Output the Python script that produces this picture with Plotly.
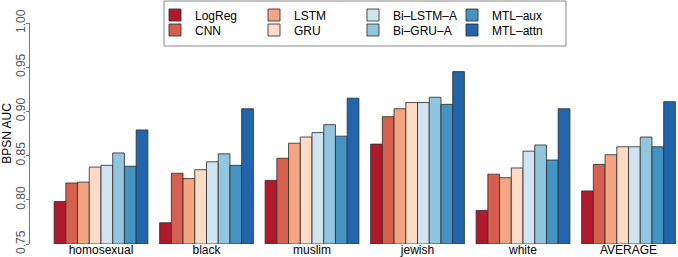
import plotly.graph_objects as go

categories = ["homosexual", "black", "muslim", "jewish", "white", "AVERAGE"]
models = ["LogReg", "CNN", "LSTM", "GRU", "Bi\u2013LSTM\u2013A", "Bi\u2013GRU\u2013A", "MTL\u2013aux", "MTL\u2013attn"]
colors = ["#B2182B", "#D6604D", "#F4A582", "#FDDBC7", "#D1E5F0", "#92C5DE", "#4393C3", "#2166AC"]

logreg   = [0.798, 0.774, 0.822, 0.863, 0.788, 0.810]
cnn      = [0.819, 0.830, 0.847, 0.894, 0.829, 0.840]
lstm     = [0.820, 0.824, 0.864, 0.903, 0.825, 0.851]
gru      = [0.837, 0.834, 0.871, 0.910, 0.836, 0.860]
bilstm_a = [0.839, 0.843, 0.876, 0.910, 0.855, 0.860]
bigru_a  = [0.853, 0.852, 0.885, 0.916, 0.862, 0.871]
mtl_aux  = [0.838, 0.839, 0.872, 0.908, 0.845, 0.860]
mtl_attn = [0.879, 0.903, 0.915, 0.945, 0.903, 0.911]

series = [logreg, cnn, lstm, gru, bilstm_a, bigru_a, mtl_aux, mtl_attn]
# legend row (R fills legend column-wise: 2 rows x 4 columns)
legend_rows = ["legend", "legend2", "legend", "legend2", "legend", "legend2", "legend", "legend2"]

W, H = 678, 257
ML, MR, MT, MB = 30, 0, 23, 13
PW, PH = W - ML - MR, H - MT - MB

def px_x(p):
    return (p - ML) / PW

def px_y(p):
    return (H - MB - p) / PH

fig = go.Figure()
for name, vals, col, lg in zip(models, series, colors, legend_rows):
    fig.add_trace(go.Bar(
        x=categories, y=[v - 0.75 for v in vals], base=0.75, name=name,
        marker=dict(color=col, line=dict(color="rgba(50,50,50,0.85)", width=1)),
        legend=lg,
    ))

leg_common = dict(
    orientation="h", xanchor="left", yanchor="top",
    bgcolor="rgba(0,0,0,0)", borderwidth=0,
    font=dict(size=12), itemwidth=30,
    entrywidth=54, entrywidthmode="pixels",
)

fig.add_shape(type="rect", xref="paper", yref="paper",
              x0=px_x(164), x1=px_x(566), y0=px_y(46), y1=px_y(1),
              line=dict(color="#888", width=1), fillcolor="white", layer="below")

fig.update_layout(
    width=W, height=H,
    margin=dict(l=ML, r=MR, t=MT, b=MB),
    plot_bgcolor="white", paper_bgcolor="white",
    font=dict(family="Liberation Sans, Arial, sans-serif", size=12, color="#000"),
    barmode="group", bargap=1/9, bargroupgap=0,
    showlegend=True,
    legend=dict(x=px_x(155), y=px_y(0.5), **leg_common),
    legend2=dict(x=px_x(155), y=px_y(15.5), **leg_common),
    xaxis=dict(
        range=[-0.673, 5.469], showline=False, showgrid=False, ticks="",
        tickfont=dict(size=12, color="#000"), automargin=False,
        ticklabelstandoff=-3,
    ),
    yaxis=dict(
        range=[0.75, 1.0], tickvals=[0.75, 0.80, 0.85, 0.90, 0.95, 1.00],
        ticktext=["0.75", "0.80", "0.85", "0.90", "0.95", "1.00"],
        showline=True, linecolor="#777", linewidth=1,
        ticks="outside", ticklen=3, tickcolor="#777", tickangle=-90,
        tickfont=dict(size=12, color="#555"), showgrid=False, zeroline=False,
        automargin=False, ticklabelstandoff=-4,
        title=dict(text="BPSN AUC", font=dict(size=12, color="#000"), standoff=2),
    ),
)

fig.write_html("out.html", config={"displayModeBar": False},
               post_script="document.body.style.margin='0px';")
